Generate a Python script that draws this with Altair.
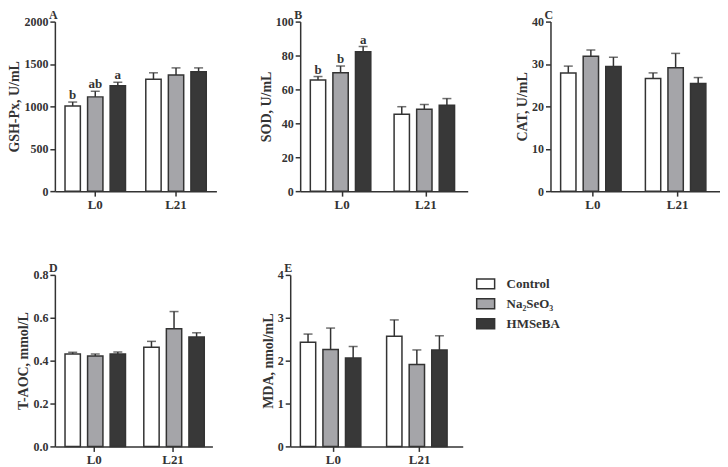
import altair as alt
import pandas as pd

periods = ["L0", "L0", "L0", "L21", "L21", "L21"]
groups = ["Control", "Na₂SeO₃", "HMSeBA", "Control", "Na₂SeO₃", "HMSeBA"]
group_order = ["Control", "Na₂SeO₃", "HMSeBA"]
group_colors = ["#ffffff", "#a5a5a9", "#383838"]

gsh_mean = [1005, 1112, 1242, 1319, 1369, 1408]
gsh_sd = [46, 66, 43, 77, 85, 46]
gsh_sig = ["b", "ab", "a", "", "", ""]

sod_mean = [65.5, 69.9, 82.2, 45.4, 48.3, 50.6]
sod_sd = [2.1, 3.9, 3.1, 4.4, 2.8, 4.0]
sod_sig = ["b", "b", "a", "", "", ""]

cat_mean = [27.9, 31.8, 29.4, 26.6, 29.1, 25.4]
cat_sd = [1.6, 1.5, 2.2, 1.3, 3.4, 1.4]
cat_sig = ["", "", "", "", "", ""]

taoc_mean = [0.431, 0.422, 0.431, 0.462, 0.549, 0.510]
taoc_sd = [0.008, 0.009, 0.009, 0.028, 0.080, 0.020]
taoc_sig = ["", "", "", "", "", ""]

mda_mean = [2.43, 2.26, 2.06, 2.57, 1.91, 2.25]
mda_sd = [0.19, 0.50, 0.27, 0.38, 0.34, 0.33]
mda_sig = ["", "", "", "", "", ""]

FONT = "Liberation Serif"
INK = "#333333"


def panel(letter, ytitle, mean, sd, sig, ymax, ystep, width, height, fmt, legend=False):
    df = pd.DataFrame({
        "period": periods,
        "group": groups,
        "mean": mean,
        "top": [m + s for m, s in zip(mean, sd)],
        "sig": sig,
    })
    ticks = [round(i * ystep, 6) for i in range(int(round(ymax / ystep)) + 1)]
    x = alt.X("period:N", title=None,
              scale=alt.Scale(paddingInner=0, paddingOuter=0),
              axis=alt.Axis(labelAngle=0, tickSize=5, labelPadding=2, labelFontSize=13))
    xo = alt.XOffset("group:N", sort=group_order,
                     scale=alt.Scale(paddingInner=0.32, paddingOuter=0.45))
    yscale = alt.Scale(domain=[0, ymax], nice=False, zero=True)
    yaxis = alt.Axis(values=ticks, tickCount=len(ticks), format=fmt, tickSize=5,
                     labelPadding=2, labelFontSize=12, titleFontSize=14,
                     titlePadding=2, labelOverlap=False)
    if legend:
        leg = alt.Legend(title=None, orient="none", legendX=width + 12, legendY=-2,
                         padding=0,
                         symbolType="M-0.9,-0.5H0.9V0.5H-0.9Z", symbolSize=400,
                         symbolStrokeColor=INK, symbolStrokeWidth=1.5,
                         labelFont=FONT, labelFontWeight="bold", labelFontSize=13,
                         labelColor=INK, labelOffset=10, rowPadding=1)
    else:
        leg = None
    base = alt.Chart(df)
    bars = base.mark_bar(stroke=INK, strokeWidth=1.5).encode(
        x=x, xOffset=xo,
        y=alt.Y("mean:Q", title=ytitle, scale=yscale, axis=yaxis),
        fill=alt.Fill("group:N", sort=group_order,
                      scale=alt.Scale(domain=group_order, range=group_colors),
                      legend=leg),
    )
    rules = base.mark_rule(color=INK, strokeWidth=1.5).encode(
        x=x, xOffset=xo, y="mean:Q", y2="top:Q")
    caps = base.mark_tick(color=INK, thickness=1.5, size=9).encode(
        x=x, xOffset=xo, y="top:Q")
    text = base.mark_text(font=FONT, fontWeight="bold", fontSize=13, color=INK,
                          baseline="alphabetic", dy=-3).encode(
        x=x, xOffset=xo, y="top:Q", text="sig:N")
    return alt.layer(bars, rules, caps, text).properties(
        width=width, height=height,
        title=alt.TitleParams(letter, anchor="start", frame="group", fontSize=12,
                              font=FONT, fontWeight="bold", color=INK, dx=-6,
                              offset=-6),
    )


A = panel("A", "GSH-Px, U/mL", gsh_mean, gsh_sd, gsh_sig, 2000, 500, 162, 170, "d")
B = panel("B", "SOD, U/mL", sod_mean, sod_sd, sod_sig, 100, 20, 168, 170, "d")
C = panel("C", "CAT, U/mL", cat_mean, cat_sd, cat_sig, 40, 10, 170, 170, "d")
D = panel("D", "T-AOC, mmol/L", taoc_mean, taoc_sd, taoc_sig, 0.8, 0.2, 158, 172, ".1f")
E = panel("E", "MDA, nmol/mL", mda_mean, mda_sd, mda_sig, 4, 1, 173, 172, "d", legend=True)

top = alt.hconcat(
    A,
    alt.hconcat(B, C, spacing=48).resolve_scale(fill="independent"),
    spacing=43,
).resolve_scale(fill="independent")
bottom = alt.hconcat(D, E, spacing=49).resolve_scale(fill="independent")

chart = alt.vconcat(top, bottom, spacing=51).resolve_scale(fill="independent").properties(
    padding=0, background="#ffffff"
).configure_view(stroke=None).configure_axis(
    labelFont=FONT, labelFontWeight="bold", labelColor=INK,
    titleFont=FONT, titleFontWeight="bold", titleColor=INK,
    domainColor=INK, tickColor=INK, domainWidth=1.5, tickWidth=1.5, grid=False,
)

chart.save("out.html", embed_options={"renderer": "svg", "actions": False})
